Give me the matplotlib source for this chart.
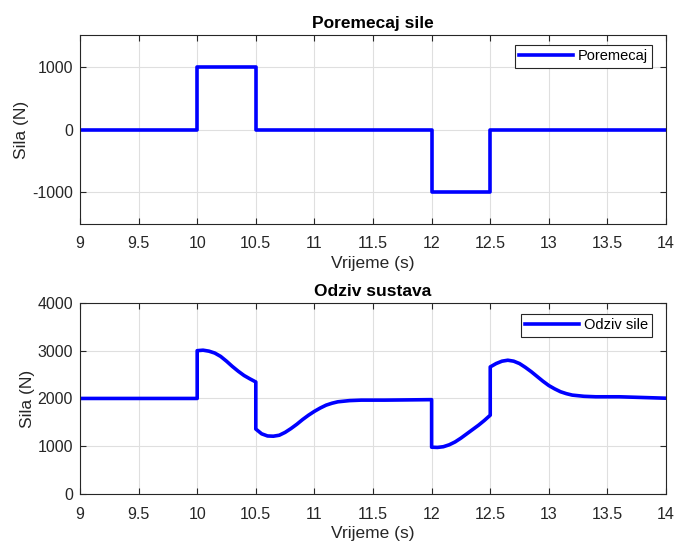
import matplotlib
matplotlib.use("Agg")
import matplotlib.pyplot as plt

plt.rcParams['font.family'] = ['Liberation Sans', 'DejaVu Sans']
plt.rcParams['axes.unicode_minus'] = False

# disturbance force (N)
t_dist = [9.0, 10.0, 10.0, 10.5, 10.5, 12.0, 12.0, 12.5, 12.5, 14.0]
f_dist = [0, 0, 1000, 1000, 0, 0, -1000, -1000, 0, 0]

# system response (N)
t_resp = [9.0, 10.0, 10.0, 10.05, 10.1, 10.15, 10.2, 10.25, 10.3, 10.35, 10.4, 10.45, 10.5,
          10.5, 10.55, 10.6, 10.65, 10.7, 10.75, 10.8, 10.85, 10.9, 10.95, 11.0, 11.05,
          11.1, 11.15, 11.2, 11.3, 11.4, 11.6, 11.8, 12.0,
          12.0, 12.05, 12.1, 12.15, 12.2, 12.25, 12.3, 12.35, 12.4, 12.45, 12.5,
          12.5, 12.55, 12.6, 12.65, 12.7, 12.75, 12.8, 12.85, 12.9, 12.95, 13.0, 13.05,
          13.1, 13.15, 13.2, 13.3, 13.4, 13.6, 13.8, 14.0]
f_resp = [2000, 2000, 3000, 3010, 2990, 2950, 2880, 2780, 2670, 2570, 2480, 2410, 2345,
          1360, 1260, 1215, 1210, 1230, 1290, 1370, 1460, 1560, 1650, 1730, 1800,
          1860, 1900, 1930, 1955, 1965, 1965, 1970, 1975,
          980, 975, 990, 1030, 1090, 1170, 1260, 1350, 1440, 1540, 1650,
          2660, 2730, 2780, 2800, 2780, 2730, 2650, 2560, 2460, 2360, 2270, 2200,
          2140, 2100, 2070, 2045, 2035, 2035, 2020, 2005]

x_ticks = [9, 9.5, 10, 10.5, 11, 11.5, 12, 12.5, 13, 13.5, 14]
x_tick_labels = ['9', '9.5', '10', '10.5', '11', '11.5', '12', '12.5', '13', '13.5', '14']

fig = plt.figure(figsize=(6.76, 5.43), dpi=100)
ax1 = fig.add_axes([0.1183, 0.5875, 0.867, 0.348])
ax2 = fig.add_axes([0.1183, 0.0902, 0.867, 0.352])


def style(ax, title, yticks, ylim, leg_top):
    ax.set_xlim(9, 14)
    ax.set_ylim(*ylim)
    ax.set_xticks(x_ticks)
    ax.set_xticklabels(x_tick_labels)
    ax.set_yticks(yticks)
    ax.grid(True, color='#dfdfdf', linewidth=0.8)
    ax.set_axisbelow(True)
    ax.tick_params(direction='in', top=True, right=True, labelsize=11.5,
                   colors='#262626', length=4)
    ax.tick_params(axis='x', pad=9)
    ax.tick_params(axis='y', pad=5)
    for s in ax.spines.values():
        s.set_color('#262626')
        s.set_linewidth(0.8)
    ax.set_title(title, fontsize=12.5, fontweight='bold', pad=5)
    ax.set_xlabel('Vrijeme (s)', fontsize=12.5, color='#262626', labelpad=3)
    ax.set_ylabel('Sila (N)', fontsize=12.5, color='#262626', labelpad=2)
    leg = ax.legend(loc='upper right', bbox_to_anchor=(1 - 14 / 586, leg_top),
                    borderaxespad=0, fontsize=10.5, fancybox=False, framealpha=1,
                    edgecolor='#262626', handlelength=3.7, handletextpad=0.3,
                    borderpad=0.3)
    leg.get_frame().set_linewidth(0.8)


ax1.plot(t_dist, f_dist, color='#0000ff', linewidth=2.6, label='Poremecaj')
style(ax1, 'Poremecaj sile', [-1000, 0, 1000], (-1500, 1500), 1 - 10 / 189)

ax2.plot(t_resp, f_resp, color='#0000ff', linewidth=2.6, label='Odziv sile')
style(ax2, 'Odziv sustava', [0, 1000, 2000, 3000, 4000], (0, 4000), 1 - 11 / 191)

fig.savefig('out.png', dpi=100)
